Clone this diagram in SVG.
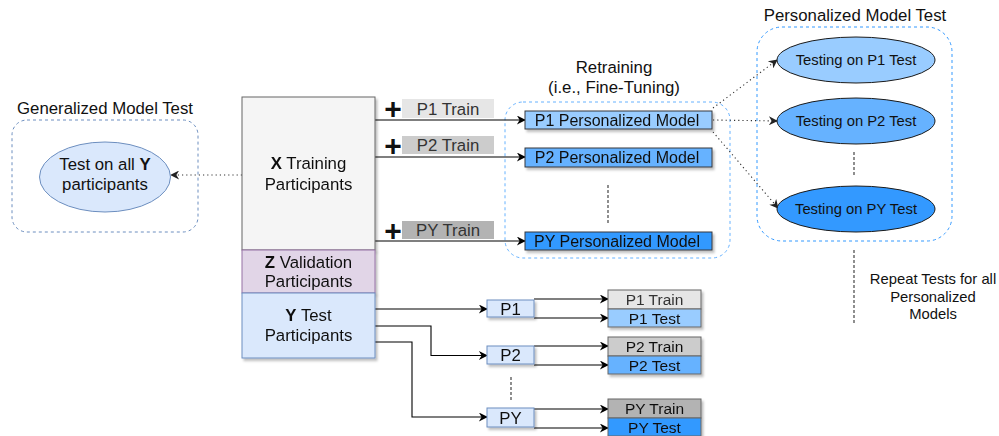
<svg xmlns="http://www.w3.org/2000/svg" width="999" height="436" viewBox="0 0 999 436">
<defs>
<filter id="sh" x="-10%" y="-10%" width="130%" height="140%">
<feDropShadow dx="2" dy="2.5" stdDeviation="1" flood-color="#000" flood-opacity="0.25"/>
</filter>
<marker id="arr" viewBox="0 0 10 10" refX="9" refY="5" markerWidth="10" markerHeight="9" markerUnits="userSpaceOnUse" orient="auto">
<path d="M0,0 L10,5 L0,10 L3,5 z" fill="#000"/>
</marker>
<marker id="arrd" viewBox="0 0 10 10" refX="9" refY="5" markerWidth="10" markerHeight="9" markerUnits="userSpaceOnUse" orient="auto">
<path d="M0,0 L10,5 L0,10 L3,5 z" fill="#222"/>
</marker>
</defs>
<style>
text{font-family:"Liberation Sans",Arial,sans-serif;text-anchor:middle;fill:#111}
.t16{font-size:16.8px}
.tm{font-size:16px}
.t15{font-size:15.5px}
.t145{font-size:14.8px}
.g{fill:#333}
.plus{font-size:30px;font-weight:bold}
.cont{fill:none;stroke-dasharray:3 3;stroke-width:1}
.ln{fill:none;stroke:#000;stroke-width:1.1}
.dot{fill:none;stroke:#333;stroke-width:1.1;stroke-dasharray:1.2 3}
.vd{fill:none;stroke:#333;stroke-width:1.1;stroke-dasharray:3 2}
.sb{stroke:#36393d;stroke-width:1}
</style>

<!-- containers -->
<g id="generalized-test">
<rect class="cont" x="12" y="120" width="186" height="112" rx="15" stroke="#6c8ebf"/>
<text class="t16" x="105" y="114">Generalized Model Test</text>
</g>
<g id="retraining">
<rect class="cont" x="505" y="102" width="225" height="156" rx="18" stroke="#66B2FF"/>
<text class="t16" x="614" y="73">Retraining</text>
<text class="t16" x="614" y="93">(i.e., Fine-Tuning)</text>
</g>
<g id="personalized-test">
<rect class="cont" x="757" y="27" width="195" height="214" rx="25" stroke="#3399FF"/>
<text class="t16" x="855" y="21">Personalized Model Test</text>
</g>

<!-- connectors -->
<g id="connectors">
<path class="dot" d="M242,175 L171,175" marker-end="url(#arrd)"/>
<path class="ln" d="M375,120 L525,120" marker-end="url(#arr)"/>
<path class="ln" d="M375,157 L525,157" marker-end="url(#arr)"/>
<path class="ln" d="M375,241 L525,241" marker-end="url(#arr)"/>
<path class="dot" d="M713,108 L777,60" marker-end="url(#arrd)"/>
<path class="dot" d="M713,120 L777,121" marker-end="url(#arrd)"/>
<path class="dot" d="M713,132 L778,208" marker-end="url(#arrd)"/>
<path class="ln" d="M375,309 L487,309" marker-end="url(#arr)"/>
<path class="ln" d="M375,326 L431,326 L431,355.5 L487,355.5" marker-end="url(#arr)"/>
<path class="ln" d="M375,342 L412,342 L412,417 L487,417" marker-end="url(#arr)"/>
<path class="ln" d="M534,299 L608,299" marker-end="url(#arr)"/>
<path class="ln" d="M534,318 L608,318" marker-end="url(#arr)"/>
<path class="ln" d="M534,346 L608,346" marker-end="url(#arr)"/>
<path class="ln" d="M534,365 L608,365" marker-end="url(#arr)"/>
<path class="ln" d="M534,409 L608,409" marker-end="url(#arr)"/>
<path class="ln" d="M534,428 L608,428" marker-end="url(#arr)"/>
<path class="vd" d="M608,185 L608,223"/>
<path class="vd" d="M854,152 L854,175"/>
<path class="vd" d="M854,250 L854,325"/>
<path class="vd" d="M511,377 L511,402"/>
</g>

<!-- generalized ellipse -->
<g id="test-all-y">
<ellipse cx="105" cy="177" rx="65.5" ry="35" fill="#dae8fc" stroke="#6c8ebf"/>
<text class="t16" x="105" y="170">Test on all <tspan font-weight="bold">Y</tspan></text>
<text class="t16" x="105" y="190">participants</text>
</g>

<!-- main column -->
<g id="x-training" filter="url(#sh)">
<rect x="242" y="97" width="133" height="153" fill="#f5f5f5" stroke="#666666"/>
<text class="t16" x="308.5" y="169"><tspan font-weight="bold">X</tspan> Training</text>
<text class="t16" x="308.5" y="190">Participants</text>
</g>
<g id="z-validation" filter="url(#sh)">
<rect x="242" y="250" width="133" height="43" fill="#e1d5e7" stroke="#9673a6"/>
<text class="t16" x="308.5" y="268"><tspan font-weight="bold">Z</tspan> Validation</text>
<text class="t16" x="308.5" y="287">Participants</text>
</g>
<g id="y-test" filter="url(#sh)">
<rect x="242" y="293" width="133" height="65" fill="#dae8fc" stroke="#6c8ebf"/>
<text class="t16" x="308.5" y="321"><tspan font-weight="bold">Y</tspan> Test</text>
<text class="t16" x="308.5" y="341">Participants</text>
</g>

<!-- train labels -->
<g id="p1-train-label">
<text class="plus" x="393" y="119">+</text>
<rect x="402" y="99" width="92" height="19" fill="#E6E6E6"/>
<text class="t16 g" x="448" y="114.5">P1 Train</text>
</g>
<g id="p2-train-label">
<text class="plus" x="393" y="156">+</text>
<rect x="402" y="136" width="92" height="18" fill="#CCCCCC"/>
<text class="t16 g" x="448" y="151">P2 Train</text>
</g>
<g id="py-train-label">
<text class="plus" x="393" y="241">+</text>
<rect x="402" y="221" width="92" height="18" fill="#B3B3B3"/>
<text class="t16 g" x="448" y="236">PY Train</text>
</g>

<!-- personalized models -->
<g id="p1-model" filter="url(#sh)">
<rect class="sb" x="525" y="111" width="187" height="18" fill="#99CCFF"/>
<text class="tm" x="617" y="126">P1 Personalized Model</text>
</g>
<g id="p2-model" filter="url(#sh)">
<rect class="sb" x="525" y="148" width="187" height="19" fill="#66B2FF"/>
<text class="tm" x="617" y="163">P2 Personalized Model</text>
</g>
<g id="py-model" filter="url(#sh)">
<rect class="sb" x="525" y="232" width="187" height="18" fill="#3399FF"/>
<text class="tm" x="617" y="247">PY Personalized Model</text>
</g>

<!-- test ellipses -->
<g id="test-p1">
<ellipse cx="856" cy="60" rx="79" ry="23" fill="#99CCFF" stroke="#1a1a1a"/>
<text class="t145" x="856" y="65">Testing on P1 Test</text>
</g>
<g id="test-p2">
<ellipse cx="856" cy="121" rx="79" ry="23" fill="#66B2FF" stroke="#1a1a1a"/>
<text class="t145" x="856" y="126">Testing on P2 Test</text>
</g>
<g id="test-py">
<ellipse cx="856" cy="209" rx="79" ry="23" fill="#3399FF" stroke="#1a1a1a"/>
<text class="t145" x="856" y="214">Testing on PY Test</text>
</g>

<g id="repeat-note">
<text class="t145" x="933" y="284">Repeat Tests for all</text>
<text class="t145" x="933" y="302">Personalized</text>
<text class="t145" x="933" y="319">Models</text>
</g>

<!-- participant splits -->
<g id="p1" filter="url(#sh)">
<rect x="487" y="300" width="47" height="17" fill="#dae8fc" stroke="#6c8ebf"/>
<text class="t16" x="510.5" y="314.5">P1</text>
</g>
<g id="p2" filter="url(#sh)">
<rect x="487" y="346" width="47" height="18" fill="#dae8fc" stroke="#6c8ebf"/>
<text class="t16" x="510.5" y="361">P2</text>
</g>
<g id="py" filter="url(#sh)">
<rect x="487" y="408" width="47" height="19" fill="#dae8fc" stroke="#6c8ebf"/>
<text class="t16" x="510.5" y="423.5">PY</text>
</g>

<g id="p1-split" filter="url(#sh)">
<rect x="608" y="290" width="93" height="19" fill="#E6E6E6" stroke="#666666"/>
<text class="t15 g" x="654.5" y="305">P1 Train</text>
<rect x="608" y="309" width="93" height="18" fill="#99CCFF" stroke="#666666"/>
<text class="t15" x="654.5" y="323.5">P1 Test</text>
</g>
<g id="p2-split" filter="url(#sh)">
<rect x="608" y="337" width="93" height="19" fill="#CCCCCC" stroke="#666666"/>
<text class="t15" x="654.5" y="352">P2 Train</text>
<rect x="608" y="356" width="93" height="18" fill="#66B2FF" stroke="#666666"/>
<text class="t15" x="654.5" y="370.5">P2 Test</text>
</g>
<g id="py-split" filter="url(#sh)">
<rect x="608" y="399" width="93" height="19" fill="#B3B3B3" stroke="#666666"/>
<text class="t15" x="654.5" y="414">PY Train</text>
<rect x="608" y="418" width="93" height="18" fill="#3399FF" stroke="#666666"/>
<text class="t15" x="654.5" y="432.5">PY Test</text>
</g>
</svg>
